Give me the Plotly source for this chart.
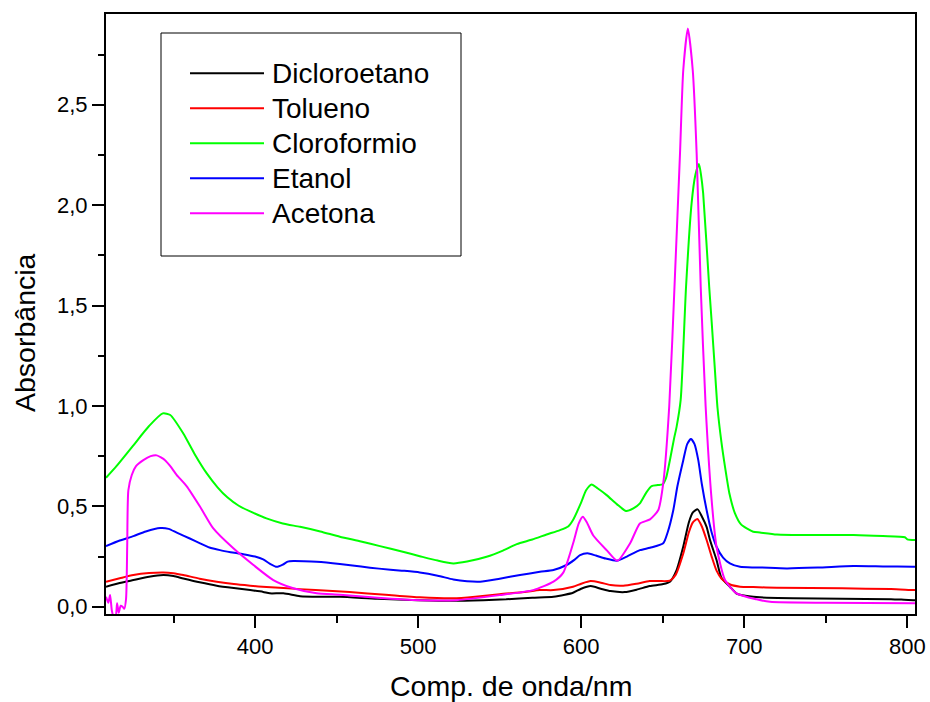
import plotly.graph_objects as go

# Absorption spectra of the dye in five solvents (wavelength in nm, absorbance)
names = ["Dicloroetano", "Tolueno", "Cloroformio", "Etanol", "Acetona"]
colors = ["#000000", "#FF0000", "#00FF00", "#0000FF", "#FF00FF"]

wl_dicloro = [308.6, 317, 325.4, 335, 343.8, 350, 356, 366, 376.5, 387, 397, 405, 409, 417.4,
              427.6, 440, 452, 475, 500, 521.6, 540, 554, 570, 583, 590, 595, 600, 605.8, 612,
              618, 626.8, 634, 642, 650.3, 654.4, 658.5, 662.6, 666, 668.5, 671.4, 674, 676.9,
              679, 683, 686, 691.2, 695.3, 697.4, 705.5, 709.6, 730, 760, 790, 798, 803.6, 805]
abs_dicloro = [0.10, 0.118, 0.133, 0.15, 0.158, 0.153, 0.141, 0.122, 0.105, 0.093, 0.083, 0.074,
               0.067, 0.067, 0.053, 0.05, 0.05, 0.04, 0.033, 0.03, 0.033, 0.037, 0.045, 0.05,
               0.06, 0.07, 0.09, 0.103, 0.09, 0.078, 0.073, 0.085, 0.103, 0.113, 0.125, 0.183,
               0.30, 0.42, 0.47, 0.485, 0.45, 0.398, 0.332, 0.233, 0.145, 0.10, 0.065, 0.06,
               0.05, 0.047, 0.043, 0.04, 0.038, 0.035, 0.033, 0.033]

wl_tolueno = [308.6, 317, 325.4, 335, 343.8, 350, 356, 366, 376.5, 387, 397, 407, 417.4, 437,
              458, 480, 501, 521.6, 535, 550, 565, 574.7, 583, 595, 600, 605.8, 612, 618, 625.8,
              634, 642, 648, 654.4, 658, 662.6, 666, 668.5, 671.2, 674, 677, 680, 683, 686,
              691, 697.4, 705.5, 720, 760, 790, 803.6, 805]
abs_tolueno = [0.125, 0.142, 0.158, 0.168, 0.171, 0.167, 0.158, 0.14, 0.125, 0.113, 0.105, 0.098,
               0.093, 0.083, 0.073, 0.06, 0.047, 0.042, 0.05, 0.063, 0.073, 0.083, 0.083, 0.1,
               0.115, 0.128, 0.12, 0.108, 0.105, 0.115, 0.128, 0.128, 0.13, 0.16, 0.265, 0.37,
               0.42, 0.437, 0.40, 0.33, 0.25, 0.18, 0.141, 0.112, 0.1, 0.098, 0.095, 0.092,
               0.088, 0.083, 0.083]

wl_cloro = [308.6, 315, 325, 335, 343.4, 348, 356, 363, 370.4, 377, 383, 390, 397, 407, 417,
            427.6, 440, 452, 465, 476.6, 490, 501, 512, 521.6, 530, 542, 552, 560.5, 570,
            578.8, 587, 592, 595, 600, 603, 606.4, 610, 615.6, 622, 627.5, 632, 636, 640,
            643.2, 647, 650, 652, 654.4, 657, 658.5, 661, 664.3, 667.7, 670, 672.2, 673.5,
            674.8, 678.5, 680, 682, 683.6, 686, 688.2, 691, 694.3, 698, 701.5, 705.5, 709.6,
            720, 740, 767, 785, 798.5, 800, 804.7]
abs_cloro = [0.642, 0.70, 0.80, 0.90, 0.963, 0.955, 0.863, 0.76, 0.664, 0.595, 0.545, 0.503,
             0.475, 0.44, 0.415, 0.398, 0.375, 0.349, 0.325, 0.302, 0.275, 0.252, 0.23, 0.216,
             0.225, 0.249, 0.28, 0.312, 0.335, 0.36, 0.382, 0.40, 0.432, 0.52, 0.58, 0.609,
             0.59, 0.556, 0.51, 0.477, 0.49, 0.515, 0.57, 0.601, 0.606, 0.61, 0.64, 0.73,
             0.84, 0.896, 1.03, 1.594, 2.009, 2.15, 2.205, 2.15, 2.059, 1.594, 1.42, 1.18,
             0.99, 0.82, 0.697, 0.56, 0.465, 0.41, 0.39, 0.374, 0.37, 0.36, 0.357, 0.357,
             0.352, 0.346, 0.336, 0.332]

wl_etanol = [308.6, 317, 325.4, 333, 341.8, 347, 352, 360, 366.3, 372, 378.5, 385, 392.8, 400,
             405, 409, 413.3, 417, 420, 423.5, 430, 437.8, 452, 465, 476, 490, 501, 512, 521.6,
             530, 538, 550, 562.5, 574.7, 583, 591, 596, 599.3, 603.8, 609, 615, 621.8, 628,
             636, 642.2, 650.3, 653, 656.5, 659, 662.6, 665, 667.3, 669.5, 671.8, 674, 676.9,
             680, 683, 687, 691.2, 697.4, 705.5, 709.6, 726, 745, 767, 785, 803.6, 805]
abs_etanol = [0.302, 0.33, 0.352, 0.375, 0.392, 0.388, 0.369, 0.34, 0.316, 0.295, 0.282, 0.272,
              0.262, 0.25, 0.236, 0.215, 0.199, 0.21, 0.225, 0.228, 0.227, 0.224, 0.213, 0.20,
              0.19, 0.18, 0.171, 0.155, 0.136, 0.127, 0.125, 0.14, 0.158, 0.174, 0.183, 0.208,
              0.235, 0.257, 0.266, 0.255, 0.24, 0.229, 0.25, 0.282, 0.294, 0.316, 0.37, 0.482,
              0.6, 0.73, 0.81, 0.835, 0.81, 0.73, 0.61, 0.482, 0.37, 0.299, 0.245, 0.216,
              0.199, 0.196, 0.196, 0.191, 0.195, 0.203, 0.201, 0.199, 0.199]

wl_acetona = [308.6, 310, 311.1, 312.2, 313.3, 314.5, 315.4, 316.4, 317.6, 318.8, 319.8, 320.9,
              321.6, 322.3, 324.4, 327, 331.5, 336, 339.7, 344.8, 348, 352, 358, 366.3, 374.4,
              386.7, 399, 411.2, 423.5, 437.8, 452, 475, 501, 523.6, 550, 570.6, 583, 589,
              595.2, 598.5, 601, 603.5, 607.4, 615.6, 622.2, 630, 636, 642.2, 647.3, 650.3, 654,
              657.5, 660.6, 662.6, 665.4, 668.4, 670.8, 673.3, 676.3, 680, 683, 688.2, 695.3,
              707.6, 715.8, 750, 803, 805]
abs_acetona = [0.05, 0.02, 0.058, -0.02, -0.05, -0.05, 0.018, -0.03, 0.005, 0.0, -0.01, 0.04,
               0.3, 0.58, 0.656, 0.70, 0.73, 0.75, 0.754, 0.73, 0.70, 0.656, 0.601, 0.498,
               0.39, 0.291, 0.208, 0.133, 0.092, 0.067, 0.06, 0.045, 0.033, 0.033, 0.058,
               0.083, 0.125, 0.17, 0.32, 0.415, 0.448, 0.42, 0.355, 0.282, 0.229, 0.316, 0.415,
               0.435, 0.482, 0.614, 1.0, 1.65, 2.258, 2.673, 2.88, 2.673, 2.258, 1.594, 1.0,
               0.531, 0.299, 0.133, 0.067, 0.037, 0.025, 0.02, 0.017, 0.017]

x_values = [wl_dicloro, wl_tolueno, wl_cloro, wl_etanol, wl_acetona]
y_values = [abs_dicloro, abs_tolueno, abs_cloro, abs_etanol, abs_acetona]

x_ticks = [400, 500, 600, 700, 800]
y_ticks = [0.0, 0.5, 1.0, 1.5, 2.0, 2.5]

FONT = "Arial, Liberation Sans, sans-serif"
W, H = 930, 702
L, R, T, B = 106, 915, 14, 614  # plot area edges in pixels


def px_x(p):
    return (p - L) / (R - L)


def px_y(p):
    return (B - p) / (B - T)


fig = go.Figure()
for name, col, xs, ys in zip(names, colors, x_values, y_values):
    fig.add_trace(go.Scatter(
        x=xs, y=ys, mode="lines", name=name, showlegend=False,
        line=dict(color=col, width=2, shape="spline", smoothing=0.6),
    ))

# Boxed legend drawn in paper coordinates
shapes = [dict(type="rect", xref="paper", yref="paper",
               x0=px_x(161), x1=px_x(461), y0=px_y(256), y1=px_y(33),
               line=dict(color="black", width=1), fillcolor="white", layer="above")]
annotations = []
row0, row_step = 73.3, 35.0
for i, (name, col) in enumerate(zip(names, colors)):
    yy = px_y(row0 + i * row_step)
    shapes.append(dict(type="line", xref="paper", yref="paper",
                       x0=px_x(190), x1=px_x(264), y0=yy, y1=yy,
                       line=dict(color=col, width=2), layer="above"))
    annotations.append(dict(xref="paper", yref="paper", x=px_x(270), y=yy,
                            xanchor="left", yanchor="middle", showarrow=False,
                            text=name, font=dict(family=FONT, size=28, color="black")))

# Axis titles
annotations.append(dict(xref="paper", yref="paper", x=px_x(511), y=px_y(686),
                        xanchor="center", yanchor="middle", showarrow=False,
                        text="Comp. de onda/nm", font=dict(family=FONT, size=28.5, color="black")))
annotations.append(dict(xref="paper", yref="paper", x=px_x(25), y=px_y(333),
                        xanchor="center", yanchor="middle", showarrow=False, textangle=-90,
                        text="Absorbância", font=dict(family=FONT, size=28.5, color="black")))

fig.update_layout(
    width=W, height=H,
    margin=dict(l=L, r=W - R, t=T, b=H - B, pad=0, autoexpand=False),
    paper_bgcolor="white", plot_bgcolor="white",
    separators=", ",
    font=dict(family=FONT, size=22, color="black"),
    shapes=shapes, annotations=annotations,
    xaxis=dict(
        range=[308.6, 804.7], tickmode="array", tickvals=x_ticks, automargin=False,
        ticks="outside", ticklen=12, tickwidth=2, tickcolor="black",
        minor=dict(ticks="outside", ticklen=7, tickwidth=2, tickcolor="black", dtick=50, tick0=0),
        showline=True, linewidth=2, linecolor="black", mirror=True,
        showgrid=False, zeroline=False, tickfont=dict(size=22),
    ),
    yaxis=dict(
        range=[-0.036, 2.952], tickmode="array", tickvals=y_ticks, tickformat=".1f",
        automargin=False,
        ticks="outside", ticklen=12, tickwidth=2, tickcolor="black",
        minor=dict(ticks="outside", ticklen=6, tickwidth=2, tickcolor="black", dtick=0.25, tick0=0),
        showline=True, linewidth=2, linecolor="black", mirror=True,
        showgrid=False, zeroline=False, tickfont=dict(size=22),
    ),
)

fig.write_html("out.html")
